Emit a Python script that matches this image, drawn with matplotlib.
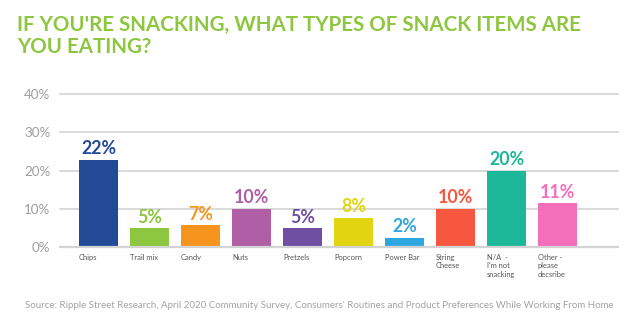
import matplotlib
matplotlib.use("Agg")
import matplotlib.pyplot as plt
import matplotlib.transforms as mtransforms

categories = ["Chips", "Trail mix", "Candy", "Nuts", "Pretzels", "Popcorn",
              "Power Bar", "String\nCheese", "N/A  -\nI'm not\nsnacking",
              "Other -\nplease\ndecsribe"]
values = [22.8, 4.8, 5.6, 10.0, 4.8, 7.6, 2.4, 10.0, 20.0, 11.4]
value_labels = ["22%", "5%", "7%", "10%", "5%", "8%", "2%", "10%", "20%", "11%"]
colors = ["#224A97", "#8DC63F", "#F7941D", "#B05FA6", "#6E4FA1", "#E2D411",
          "#2EA7E0", "#F7573E", "#1DB79A", "#F46FBA"]
yticks = [0, 10, 20, 30, 40]
ytick_labels = ["0%", "10%", "20%", "30%", "40%"]

title = "IF YOU'RE SNACKING, WHAT TYPES OF SNACK ITEMS ARE\nYOU EATING?"
source = ("Source: Ripple Street Research, April 2020 Community Survey, "
          "Consumers' Routines and Product Preferences While Working From Home")

plt.rcParams['font.family'] = ['Lato', 'DejaVu Sans']

W, H = 640, 328
fig = plt.figure(figsize=(W / 100, H / 100), dpi=100)
ax = fig.add_axes([60 / W, 1 - 246.7 / H, (617.7 - 60) / W, (246.7 - 94.3) / H])

width = 0.77
x = list(range(len(categories)))
ax.bar(x, values, width=width, color=colors, zorder=2)
ax.set_xlim(-0.76, 10.18)
ax.set_ylim(0, 40)

for yv in yticks:
    ax.axhline(yv, color="#d3d3d3", lw=1.6 if yv == 0 else 1.2, zorder=1 if yv else 3,
               clip_on=False)

for s in ax.spines.values():
    s.set_visible(False)

ax.set_yticks(yticks)
ax.set_yticklabels(ytick_labels, fontsize=9.6, color="#9d9d9d")
ax.tick_params(axis="y", length=0, pad=7)

ax.set_xticks([i - width / 2 for i in x])
ax.set_xticklabels(categories, fontsize=5.4, color="#555555", ha="left",
                   linespacing=1.3)
ax.tick_params(axis="x", length=0, pad=5)

off = mtransforms.offset_copy(ax.transData, fig=fig, x=0, y=5.5, units="dots")
for i, (v, lab, c) in enumerate(zip(values, value_labels, colors)):
    ax.text(i, v, lab, transform=off, ha="center", va="baseline",
            fontsize=12.8, fontweight="bold", color=c)

fig.text(17 / W, 1 - 14.5 / H, title, fontsize=14.8, fontweight="bold",
         color="#8DC63F", ha="left", va="top", linespacing=1.18)

fig.text(25 / W, 1 - 305 / H, source, fontsize=7.05, color="#a3a3a3",
         ha="left", va="center")

fig.savefig("out.png", dpi=100)
